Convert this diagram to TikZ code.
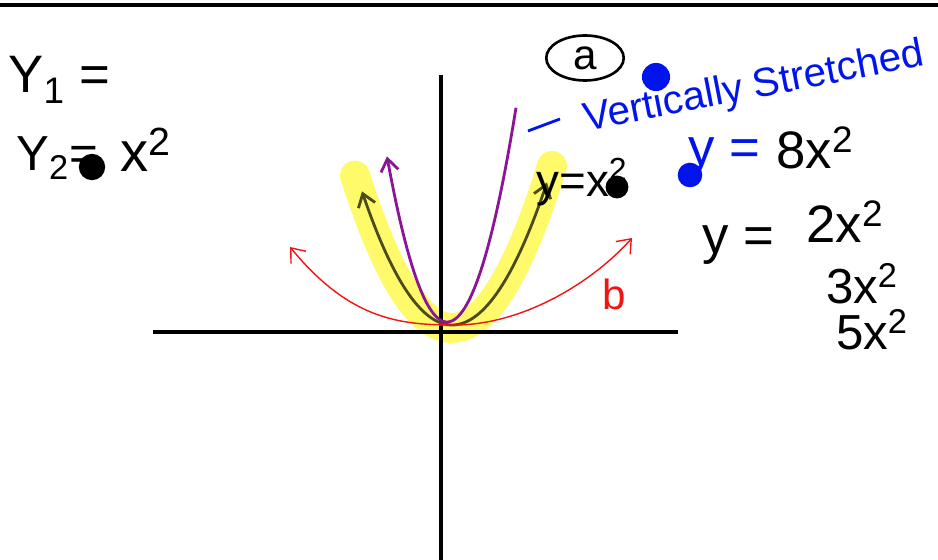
\documentclass[tikz,border=0pt]{standalone}
\usepackage{fontspec}
\setmainfont{Liberation Sans}
\usetikzlibrary{arrows.meta,shapes.geometric}
\tikzset{
  hand/.style={font=\fontsize{#1}{#1}\selectfont, inner sep=0pt},
  hand/.default=28,
  axis/.style={line width=2.6pt},
  tip/.style={-{Straight Barb[length=7pt,width=10pt]}},
  dot/.style={circle, fill, inner sep=0pt, minimum size=#1},
  dot/.default=15pt
}
\definecolor{penblue}{RGB}{0,20,235}
\definecolor{penpurple}{RGB}{140,20,150}
\definecolor{penred}{RGB}{240,20,20}
\definecolor{highlight}{RGB}{255,250,90}
\begin{document}
\begin{tikzpicture}[x=0.02cm,y=-0.02cm]
  \useasboundingbox (0,0) rectangle (938,560);
  % top edge of the board
  \draw[line width=2.2pt] (0,5) -- (938,5);
  % yellow highlight behind y=x^2
  \draw[highlight, line width=17pt, line cap=round, opacity=0.9]
    plot[domain=355:552, samples=60] (\x, {328-0.0162*(\x-452)^2});
  % axes
  \draw[axis] (153,332) -- (678,332);
  \draw[axis] (441,75) -- (441,560);
  % y = x^2
  \draw[line width=1.6pt, black!70!highlight, tip]
    (452,325) -- plot[domain=452:362, samples=40] (\x, {325-0.0165*(\x-452)^2});
  \draw[line width=1.6pt, black!70!highlight, tip]
    (452,325) -- plot[domain=452:547, samples=40] (\x, {325-0.0158*(\x-452)^2});
  % stretched curve
  \draw[line width=1.6pt, penpurple, tip]
    plot[domain=447:387, samples=40] (\x, {322-0.046*(\x-447)^2});
  \draw[line width=1.6pt, penpurple]
    plot[domain=447:516, samples=40] (\x, {322-0.045*(\x-447)^2});
  % wide red curve
  \draw[penred, line width=0.8pt, {Straight Barb[length=7pt,width=11pt]}-{Straight Barb[length=7pt,width=11pt]}]
    (290,247) .. controls (350,320) and (400,325) .. (455,325)
    .. controls (520,325) and (590,285) .. (632,238);
  \node[hand=24, text=penred] (blbl) at (614,294) {b};
  % notes on the left
  \node[hand=30, anchor=west] (yone) at (8,80) {Y\textsubscript{1} =};
  \node[hand=28, anchor=west] (ytwo) at (16,158) {Y\textsubscript{2}=};
  \node[dot] (ytwodot) at (92,167) {};
  \node[hand=32, anchor=west] (xsq) at (120,150) {x\textsuperscript{2}};
  % label on the curve
  \node[hand=26] (curvelbl) at (582,182) {y=x\textsuperscript{2}};
  \node[dot=13pt] (curvedot) at (617,187) {};
  % circled a and note in blue
  \node[draw, ellipse, line width=1.5pt, minimum width=1.55cm, minimum height=0.9cm, hand=24]
    (circa) at (585,58) {a};
  \draw[penblue, line width=1.6pt] (528,131) -- (560,119);
  \node[hand=23, text=penblue, rotate=11] (stretch) at (754,88) {Vertically Stretched};
  \node[dot=16pt, fill=penblue] (bluedot) at (656,77) {};
  % y = 8x^2
  \node[dot=14pt, fill=penblue] (eightdot) at (690,175) {};
  \node[hand=30, text=penblue] (eighty) at (724,157) {y =};
  \node[hand=30] (eightx) at (815,148) {8x\textsuperscript{2}};
  % y = 2x^2, 3x^2, 5x^2
  \node[hand=30] (twoy) at (738,245) {y =};
  \node[hand=30] (twox) at (845,222) {2x\textsuperscript{2}};
  \node[hand=28] (threex) at (862,284) {3x\textsuperscript{2}};
  \node[hand=28] (fivex) at (872,330) {5x\textsuperscript{2}};
\end{tikzpicture}
\end{document}
